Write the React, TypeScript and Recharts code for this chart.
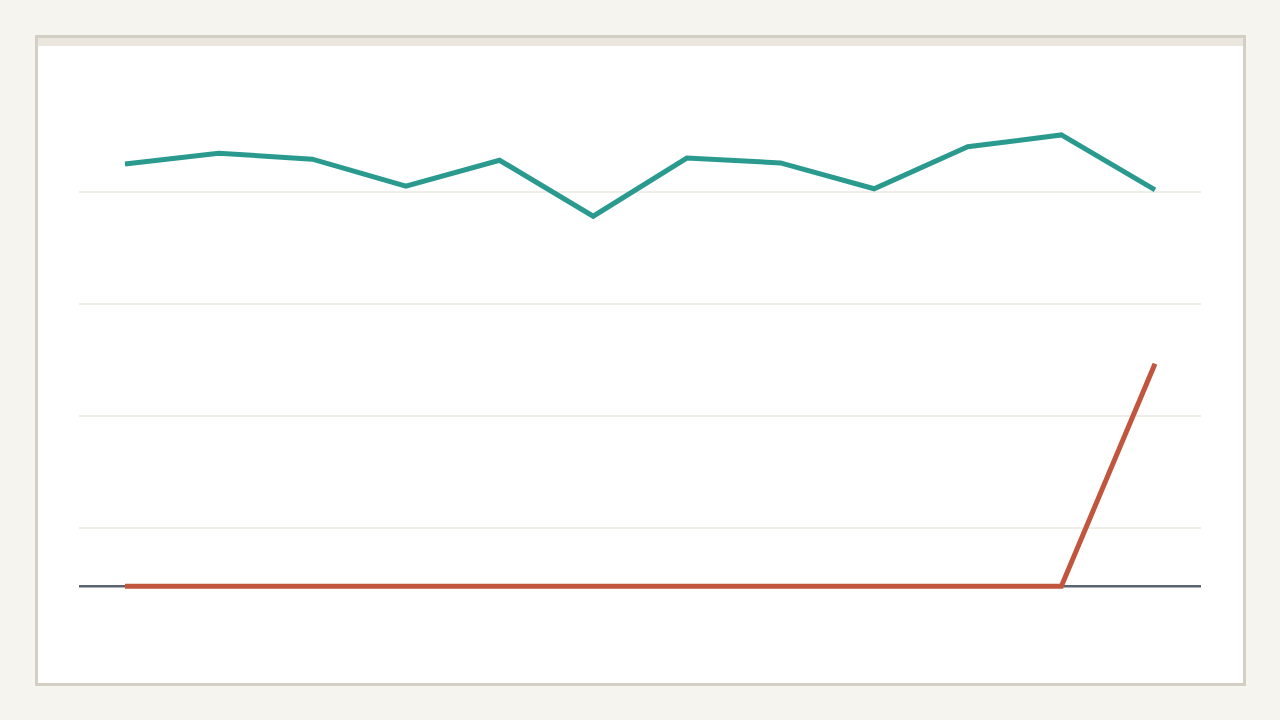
import { Line, LineChart, ReferenceLine, XAxis, YAxis } from "recharts";

// 12 periods, no labels shown in the reference
const periods = ["P1", "P2", "P3", "P4", "P5", "P6", "P7", "P8", "P9", "P10", "P11", "P12"];
const tealSeries = [78.4, 80.4, 79.3, 74.3, 79.1, 68.7, 79.5, 78.6, 73.8, 81.6, 83.8, 73.6];
const redSeries = [0, 0, 0, 0, 0, 0, 0, 0, 0, 0, 0, 41.3];
const yTicks = [10.8, 31.6, 52.4, 73.2];
const yDomain = [-10, 94];

const data = periods.map((p, i) => ({ period: p, teal: tealSeries[i], red: redSeries[i] }));

export default function App() {
  return (
    <div style={{ position: "fixed", inset: 0, background: "#f5f4ef", overflow: "hidden" }}>
      <div
        style={{
          position: "absolute",
          left: 35,
          top: 35,
          width: 1211,
          height: 651,
          boxSizing: "border-box",
          border: "3px solid #d3cfc4",
          background: "#ffffff",
        }}
      >
        <div style={{ height: 8, background: "#ebe7df" }} />
      </div>
      <div style={{ position: "absolute", left: 0, top: 0 }}>
        <LineChart width={1280} height={720} data={data} margin={{ top: 80, right: 79, bottom: 80, left: 79 }}>
          <XAxis dataKey="period" hide padding={{ left: 46, right: 46 }} />
          <YAxis hide domain={yDomain} ticks={yTicks} type="number" />
          {/* horizontal grid, drawn only at the tick values */}
          {yTicks.map((t) => (
            <ReferenceLine key={t} y={t} stroke="#dedbcf" strokeWidth={1} />
          ))}
          <ReferenceLine y={0} stroke="#5b6370" strokeWidth={2.5} />
          <Line
            dataKey="teal"
            stroke="#2a9a8f"
            strokeWidth={5}
            dot={false}
            activeDot={false}
            strokeLinejoin="miter"
            isAnimationActive={false}
          />
          <Line
            dataKey="red"
            stroke="#c2553e"
            strokeWidth={5}
            dot={false}
            activeDot={false}
            strokeLinejoin="miter"
            isAnimationActive={false}
          />
        </LineChart>
      </div>
    </div>
  );
}
